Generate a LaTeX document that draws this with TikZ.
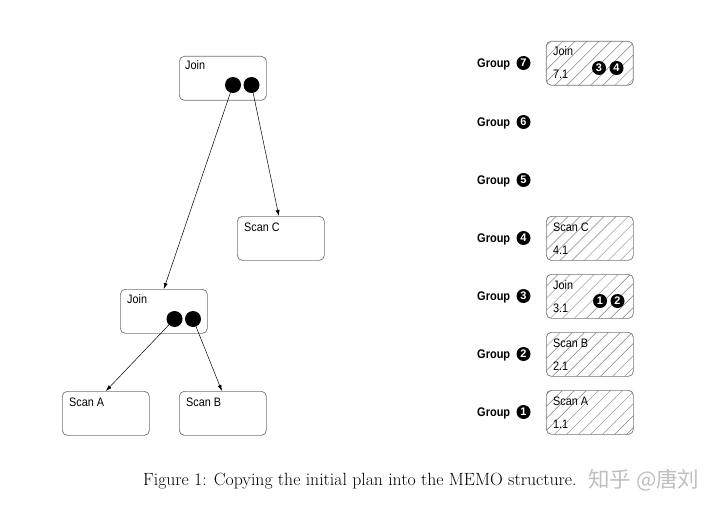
\documentclass[tikz,border=0pt]{standalone}
\usepackage{fontspec}
\newfontfamily\hv[FakeStretch=0.88]{Liberation Sans}
\newfontfamily\hvd{Liberation Sans}
\newfontfamily\cjk{Noto Sans CJK SC}
\usetikzlibrary{arrows.meta,patterns.meta}
\tikzset{
  box/.style={draw=black!55, line width=0.7pt, rounded corners=5pt, minimum width=87pt, minimum height=44pt, anchor=north west, inner sep=0pt},
  memo/.style={box, pattern={Lines[angle=45,distance=8.5pt,line width=0.45pt]}, pattern color=black!50},
  lbl/.style={anchor=base west, inner sep=0pt, font=\hv\fontsize{12.3}{14}\selectfont},
  dot/.style={circle, fill=black, minimum size=16pt, inner sep=0pt},
  sdot/.style={circle, fill=black, minimum size=14pt, inner sep=0pt, text=white, font=\hvd\bfseries\fontsize{11}{11}\selectfont},
  grp/.style={anchor=base west, inner sep=0pt, font=\hv\bfseries\fontsize{12.5}{14}\selectfont},
  arr/.style={-{Latex[length=6pt,width=4pt]}, line width=0.5pt, shorten <=-1pt},
}
\begin{document}
\begin{tikzpicture}[x=1pt,y=-1pt]
\useasboundingbox (0,0) rectangle (720,508);
% left tree
\node[box] (j1) at (179,56) {};
\node[lbl] (j1t) at ([xshift=6pt,yshift=-14pt]j1.north west) {Join};
\node[dot] (j1a) at (233,85) {};
\node[dot] (j1b) at (251.5,85) {};
\node[box] (sc) at (237,216) {};
\node[lbl] (sct) at ([xshift=7pt,yshift=-15pt]sc.north west) {Scan C};
\node[box] (j2) at (120,289) {};
\node[lbl] (j2t) at ([xshift=7pt,yshift=-14pt]j2.north west) {Join};
\node[dot] (j2a) at (174.5,319) {};
\node[dot] (j2b) at (193,319) {};
\node[box] (sa) at (62,391) {};
\node[lbl] (sat) at ([xshift=7pt,yshift=-15pt]sa.north west) {Scan A};
\node[box] (sb) at (179,391) {};
\node[lbl] (sbt) at ([xshift=7pt,yshift=-15pt]sb.north west) {Scan B};
\draw[arr] (j1a) -- (j2.north);
\draw[arr] (j1b) -- ([xshift=-2pt]sc.north);
\draw[arr] (j2a) -- (sa.north);
\draw[arr] (j2b) -- ([xshift=-1pt]sb.north);
% groups
\foreach \n/\yy in {7/63,6/122,5/180,4/238,3/296,2/354,1/412}{
  \node[grp] (g\n) at (477,\yy+4.5) {Group};
  \node[sdot] (gn\n) at (523.5,\yy) {\n};
}
% memo boxes
\node[memo] (m7) at (546,41) {};
\node[lbl] (m7t) at ([xshift=7pt,yshift=-15pt]m7.north west) {Join};
\node[lbl] (m7n) at ([xshift=7pt,yshift=-38pt]m7.north west) {7.1};
\node[sdot] (m7a) at (599,68) {3};
\node[sdot] (m7b) at (616.5,68) {4};
\node[memo] (m4) at (546,216) {};
\node[lbl] (m4t) at ([xshift=7pt,yshift=-15pt]m4.north west) {Scan C};
\node[lbl] (m4n) at ([xshift=7pt,yshift=-38pt]m4.north west) {4.1};
\node[memo] (m3) at (546,274) {};
\node[lbl] (m3t) at ([xshift=7pt,yshift=-15pt]m3.north west) {Join};
\node[lbl] (m3n) at ([xshift=7pt,yshift=-38pt]m3.north west) {3.1};
\node[sdot] (m3a) at (600,301) {1};
\node[sdot] (m3b) at (617.5,301) {2};
\node[memo] (m2) at (546,332) {};
\node[lbl] (m2t) at ([xshift=7pt,yshift=-15pt]m2.north west) {Scan B};
\node[lbl] (m2n) at ([xshift=7pt,yshift=-38pt]m2.north west) {2.1};
\node[memo] (m1) at (546,390) {};
\node[lbl] (m1t) at ([xshift=7pt,yshift=-15pt]m1.north west) {Scan A};
\node[lbl] (m1n) at ([xshift=7pt,yshift=-38pt]m1.north west) {1.1};
% caption
\node[anchor=base west, inner sep=0pt, font=\fontsize{17.7}{21}\selectfont] (cap) at (143,485) {Figure 1: Copying the initial plan into the MEMO structure.};
\node[anchor=base west, inner sep=0pt, text=black!25, font=\cjk\fontsize{21.5}{24}\selectfont] (wm) at (588,487) {知乎 @唐刘};
\end{tikzpicture}
\end{document}
